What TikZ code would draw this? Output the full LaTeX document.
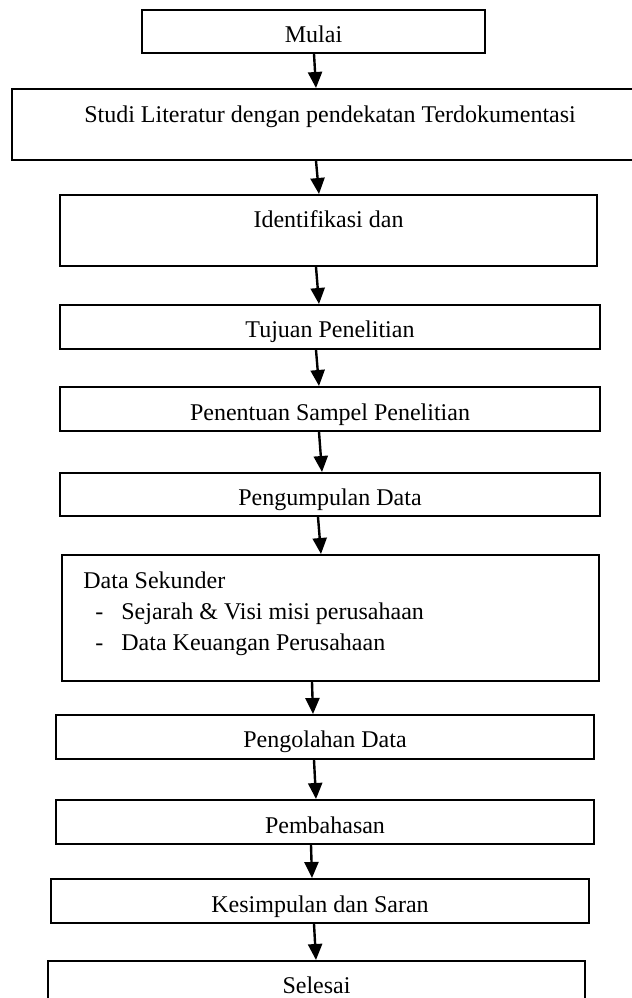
\documentclass[tikz,border=0pt]{standalone}
\usepackage{fontspec}
\setmainfont{Liberation Serif}
\usetikzlibrary{arrows.meta}

\tikzset{
	box/.style={draw, line width=1pt, inner sep=0pt, font=\fontsize{12}{14.5}\selectfont},
	flow/.style={-{Triangle[length=8pt,width=7pt]}, line width=1.2pt}
}

\begin{document}
\begin{tikzpicture}[x=0.5pt, y=-0.5pt]
	\useasboundingbox (0,0) rectangle (632,998);
	\clip (0,0) rectangle (632,998);

	% langkah-langkah
	\node[box, minimum width=171.5pt, text height=16pt, text depth=5.5pt] (mulai) at (313.5,31.5) {Mulai};
	\node[box, minimum width=318pt, text height=16.5pt, text depth=19pt] (studi) at (330,124.5) {Studi Literatur dengan pendekatan Terdokumentasi};
	\node[box, minimum width=268.5pt, text height=16pt, text depth=19.5pt] (identifikasi) at (328.5,230.5) {Identifikasi dan};
	\node[box, minimum width=270pt, text height=16pt, text depth=6pt] (tujuan) at (330,327) {Tujuan Penelitian};
	\node[box, minimum width=270pt, text height=16.5pt, text depth=5.5pt] (sampel) at (330,409) {Penentuan Sampel Penelitian};
	\node[box, minimum width=270pt, text height=16pt, text depth=5.5pt] (kumpul) at (330,494.5) {Pengumpulan Data};
	\node[box, minimum width=268.5pt, minimum height=63pt] (sekunder) at (330.5,618) {};
	\node[font=\fontsize{12}{14.5}\selectfont, align=left, anchor=north west, inner sep=0pt] (sekunder-isi) at (83,571.5)
		{Data Sekunder\\[1pt]
		\makebox[19pt][l]{\hspace{6pt}-}Sejarah \& Visi misi perusahaan\\[1pt]
		\makebox[19pt][l]{\hspace{6pt}-}Data Keuangan Perusahaan};
	\node[box, minimum width=269pt, text height=16pt, text depth=6pt] (olah) at (325,737) {Pengolahan Data};
	\node[box, minimum width=269pt, text height=16.5pt, text depth=5.5pt] (bahas) at (325,822) {Pembahasan};
	\node[box, minimum width=269pt, text height=16.5pt, text depth=5.5pt] (simpul) at (320,901) {Kesimpulan dan Saran};
	\node[box, minimum width=268.5pt, text height=16pt, text depth=5.5pt] (selesai) at (316.5,982.5) {Selesai};

	% panah
	\draw[flow] ([xshift=0.25pt]mulai.south) -- ([xshift=-7pt]studi.north);
	\draw[flow] ([xshift=-7pt]studi.south) -- ([xshift=-4.75pt]identifikasi.north);
	\draw[flow] ([xshift=-6.25pt]identifikasi.south) -- ([xshift=-5.5pt]tujuan.north);
	\draw[flow] ([xshift=-7pt]tujuan.south) -- ([xshift=-5.5pt]sampel.north);
	\draw[flow] ([xshift=-5.5pt]sampel.south) -- ([xshift=-4pt]kumpul.north);
	\draw[flow] ([xshift=-6pt]kumpul.south) -- ([xshift=-4.75pt]sekunder.north);
	\draw[flow] ([xshift=-9.25pt]sekunder.south) -- ([xshift=-6pt]olah.north);
	\draw[flow] ([xshift=-5.5pt]olah.south) -- ([xshift=-4.5pt]bahas.north);
	\draw[flow] ([xshift=-7pt]bahas.south) -- ([xshift=-4pt]simpul.north);
	\draw[flow] ([xshift=-3pt]simpul.south) -- ([xshift=-0.25pt]selesai.north);
\end{tikzpicture}
\end{document}
